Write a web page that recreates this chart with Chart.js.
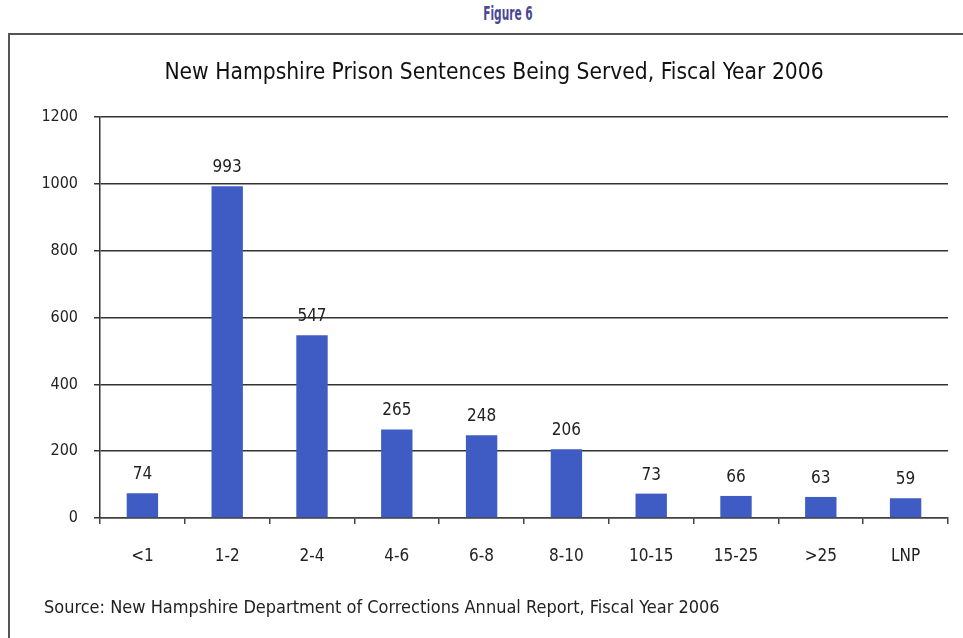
<!DOCTYPE html>
<html>
<head>
<meta charset="utf-8">
<script src="https://cdn.jsdelivr.net/npm/chart.js@4"></script>
<style>
  body { margin: 0; background: #fff; }
  #wrap { position: relative; width: 963px; height: 638px; overflow: hidden; }
  #fig {
    position: absolute; top: 2px; left: 0; width: 1016px; text-align: center;
    font: bold 19px "Liberation Sans Narrow", "DejaVu Sans Condensed", sans-serif;
    color: #4b4794;
  }
  #fig span { display: inline-block; transform: scaleX(0.62); }
  #frame {
    position: absolute; left: 8px; top: 33px; width: 980px; height: 700px;
    border-left: 2px solid #555; border-top: 2px solid #555;
  }
  #source {
    position: absolute; left: 44px; top: 596px;
    font: 18px "Liberation Sans Narrow", "DejaVu Sans Condensed", sans-serif;
    color: #222;
  }
  canvas { position: absolute; left: 0; top: 0; }
</style>
</head>
<body>
<div id="wrap">
  <div id="frame"></div>
  <div id="fig"><span>Figure 6</span></div>
  <canvas id="grafico" width="963" height="638"></canvas>
  <div id="source">Source: New Hampshire Department of Corrections Annual Report, Fiscal Year 2006</div>
</div>
<script>
const categorias = ['<1', '1-2', '2-4', '4-6', '6-8', '8-10', '10-15', '15-25', '>25', 'LNP'];
const sentencias = [74, 993, 547, 265, 248, 206, 73, 66, 63, 59];
const ticksY = [0, 200, 400, 600, 800, 1000, 1200];

const fuente = '"Liberation Sans Narrow", "DejaVu Sans Condensed", sans-serif';

// writes each bar's value just above it
const etiquetasValor = {
    id: 'etiquetasValor',
    afterDatasetsDraw(chart) {
        const ctx = chart.ctx;
        const meta = chart.getDatasetMeta(0);
        ctx.save();
        ctx.font = '17px ' + fuente;
        ctx.fillStyle = '#222';
        ctx.textAlign = 'center';
        ctx.textBaseline = 'bottom';
        meta.data.forEach((bar, i) => {
            ctx.fillText(sentencias[i], bar.x, bar.y - 10);
        });
        ctx.restore();
    }
};

new Chart(document.getElementById('grafico'), {
    type: 'bar',
    data: {
        labels: categorias,
        datasets: [{
            data: sentencias,
            backgroundColor: '#3e5cc4',
            barPercentage: 0.37,
            categoryPercentage: 1
        }]
    },
    options: {
        responsive: false,
        animation: false,
        layout: { padding: { top: 40, left: 40, right: 15, bottom: 60 } },
        plugins: {
            legend: { display: false },
            tooltip: { enabled: false },
            title: {
                display: true,
                text: 'New Hampshire Prison Sentences Being Served, Fiscal Year 2006',
                color: '#111',
                font: { family: fuente, size: 22.6, weight: 'normal' },
                padding: { top: 20, bottom: 30 }
            }
        },
        scales: {
            x: {
                afterFit(scale) { scale.height = 60; },
                grid: { offset: true, drawOnChartArea: false, drawTicks: true, tickLength: 6, color: '#444', lineWidth: 1.5 },
                border: { color: '#444', width: 1.5 },
                ticks: { color: '#222', padding: 22, font: { family: fuente, size: 17 } }
            },
            y: {
                min: 0,
                max: 1200,
                afterFit(scale) { scale.width = 60; },
                afterBuildTicks(scale) { scale.ticks = ticksY.map(v => ({ value: v })); },
                grid: { color: '#333', lineWidth: 1.5, tickLength: 6 },
                border: { color: '#333', width: 1.5 },
                ticks: {
                    color: '#222', padding: 16, font: { family: fuente, size: 16 },
                    callback: v => String(v)
                }
            }
        }
    },
    plugins: [etiquetasValor]
});
</script>
</body>
</html>
